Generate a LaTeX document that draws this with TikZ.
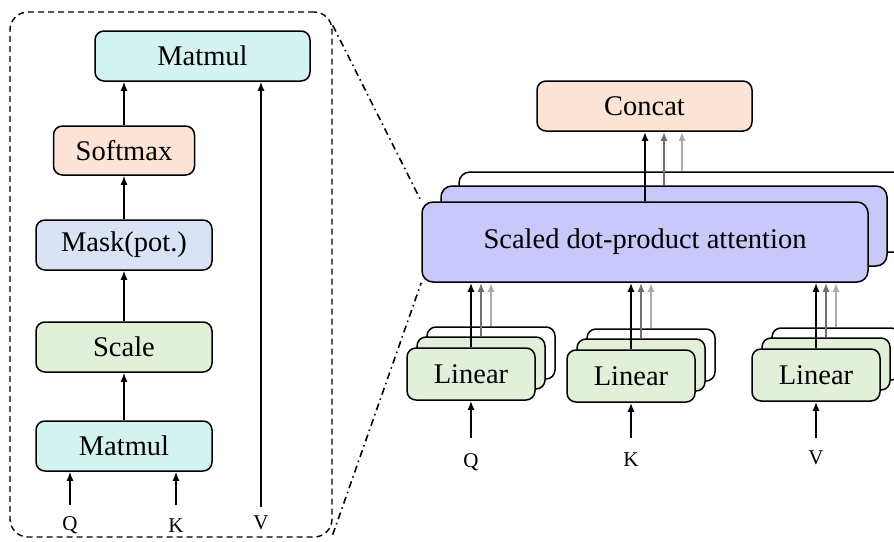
\documentclass[tikz,border=0pt]{standalone}
\usepackage{fontspec}
\setmainfont{Liberation Serif}
\usetikzlibrary{arrows.meta}

\definecolor{mmcyan}{RGB}{212,242,240}
\definecolor{peach}{RGB}{251,228,213}
\definecolor{maskblue}{RGB}{218,226,245}
\definecolor{lingreen}{RGB}{226,240,217}
\definecolor{attblue}{RGB}{200,201,250}
\definecolor{headgray}{RGB}{112,112,112}
\definecolor{headlight}{RGB}{172,172,172}

\tikzset{
  blk/.style={draw, line width=1.5pt, rounded corners=9pt, inner sep=0pt,
              font=\fontsize{28.5}{34}\selectfont},
  lab/.style={font=\fontsize{21}{25}\selectfont, inner sep=0pt},
  arr/.style={-{Latex[length=9pt,width=7pt]}, line width=1.6pt},
  harr/.style={-{Latex[length=9pt,width=7pt]}, line width=2pt},
  zoomline/.style={line width=1.6pt, dash pattern=on 7pt off 4pt on 1.5pt off 4pt},
  linbox/.style={blk, minimum width=128pt, minimum height=52pt},
  attbox/.style={blk, rounded corners=11pt, minimum width=446pt, minimum height=80pt},
}

\begin{document}
\begin{tikzpicture}[x=1pt, y=-1pt]
\useasboundingbox (0,0) rectangle (894,541);
\begin{scope}
\clip (0,0) rectangle (894,541);

% ---------- scaled dot-product attention, detail ----------
\node[draw, line width=1.4pt, dash pattern=on 6pt off 4pt, rounded corners=18pt,
      minimum width=322pt, minimum height=525pt, inner sep=0pt] (detail) at (171,274.5) {};

\node[blk, fill=mmcyan, minimum width=215pt, minimum height=50pt] (mmtop) at (202.5,56) {Matmul};
\node[blk, fill=peach, minimum width=141pt, minimum height=49pt] (soft) at (124,150.5) {Softmax};
\node[blk, fill=maskblue, minimum width=176pt, minimum height=50pt] (mask) at (124,245) {Mask(pot.)};
\node[blk, fill=lingreen, minimum width=176pt, minimum height=50pt] (scale) at (124,347) {Scale};
\node[blk, fill=mmcyan, minimum width=176pt, minimum height=50pt] (mmbot) at (124,446) {Matmul};

\draw[arr] (mmbot.north) -- (scale.south);
\draw[arr] (scale.north) -- (mask.south);
\draw[arr] (mask.north) -- (soft.south);
\draw[arr] (soft.north) -- (soft.north |- mmtop.south);

\node[lab] (dq) at (70,525) {Q};
\node[lab] (dk) at (176,526) {K};
\node[lab] (dv) at (261,523) {V};
\coordinate (dqin) at (70,505);
\coordinate (dkin) at (176,505);
\coordinate (dvin) at (261,507);
\draw[arr] (dqin) -- (dqin |- mmbot.south);
\draw[arr] (dkin) -- (dkin |- mmbot.south);
\draw[arr] (dvin) -- (dvin |- mmtop.south);

% ---------- multi-head attention ----------
\node[blk, fill=peach, minimum width=215pt, minimum height=50pt] (concat) at (644.5,106) {Concat};

\node[attbox, fill=white] (att3) at (682,212) {};
\node[attbox, fill=attblue] (att2) at (664,226) {};
\node[attbox, fill=attblue] (att1) at (645,242) {Scaled dot-product attention};

\draw[harr, headlight] (att3.north) -- (att3.north |- concat.south);
\draw[harr, headgray] (att2.north) -- (att2.north |- concat.south);
\draw[harr] (att1.north) -- (att1.north |- concat.south);

\foreach \n/\t/\x/\y/\ly in {q/Q/471/374/462, k/K/631/376/460, v/V/816/375/458} {
  \node[linbox, fill=white] (\n3) at (\x+20,\y-21) {};
  \node[linbox, fill=lingreen] (\n2) at (\x+10,\y-11) {};
  \node[linbox, fill=lingreen] (\n1) at (\x,\y) {Linear};
  \draw[harr, headlight] (\n3.north) -- (\n3.north |- att1.south);
  \draw[harr, headgray] (\n2.north) -- (\n2.north |- att1.south);
  \draw[harr] (\n1.north) -- (\n1.north |- att1.south);
  \node[lab] (\n in) at (\x,\ly) {\t};
  \coordinate (\n src) at (\x,438);
  \draw[harr] (\n src) -- (\n src |- \n1.south);
}

% ---------- zoom guides ----------
\draw[zoomline] (detail.north east) ++(0,14) -- (att1.north west);
\draw[zoomline] (detail.south east) ++(0,-3) -- (att1.south west);
\end{scope}
\end{tikzpicture}
\end{document}
